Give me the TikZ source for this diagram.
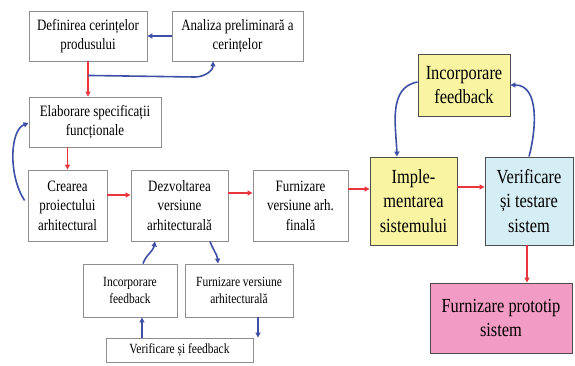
\documentclass[tikz,border=0pt]{standalone}
\usepackage{fontspec}
\setmainfont{Liberation Serif}
\newfontfamily\narrowserif[FakeStretch=0.82]{Liberation Serif}
\usetikzlibrary{arrows.meta}
\definecolor{boxgray}{HTML}{8E8E8E}
\definecolor{arrred}{HTML}{E8363C}
\definecolor{arrblue}{HTML}{3D4FA6}
\definecolor{protoyellow}{HTML}{F8F4A2}
\definecolor{protoblue}{HTML}{D5EDF4}
\definecolor{protopink}{HTML}{F29BC4}
\begin{document}
\begin{tikzpicture}[x=1pt, y=-1pt,
    every node/.style = {shape=rectangle, draw, align=center, inner sep=1pt},
    stage/.style = {draw=boxgray, fill=white, line width=0.9pt,
      font=\narrowserif\fontsize{15.8}{19.5}\selectfont},
    substage/.style = {stage, font=\narrowserif\fontsize{14}{17}\selectfont},
    proto/.style = {draw=black!70, line width=0.9pt,
      font=\narrowserif\fontsize{20}{24.5}\selectfont},
    redarrow/.style = {draw=arrred, line width=1.6pt, -{Triangle[length=5pt,width=5pt]}},
    bluearrow/.style = {draw=arrblue, line width=1.6pt, -{Triangle[length=5pt,width=5pt]}}]
    \useasboundingbox (0,0) rectangle (575,365);
    \node[stage, minimum width=118, minimum height=50] (definire) at (88,36)
        {Definirea cerințelor\\ produsului};
    \node[stage, minimum width=131, minimum height=50] (analiza) at (237.5,36)
        {Analiza preliminară a\\ cerințelor};
    \node[stage, minimum width=132, minimum height=50] (elaborare) at (95,122)
        {Elaborare specificații\\ funcționale};
    \node[stage, minimum width=79, minimum height=71] (creare) at (67.5,205.5)
        {Crearea\\ proiectului\\ arhitectural};
    \node[stage, minimum width=97, minimum height=71] (dezvoltare) at (179.5,205.5)
        {Dezvoltarea\\ versiune\\ arhitecturală};
    \node[stage, minimum width=95, minimum height=71] (finala) at (300.5,205.5)
        {Furnizare\\ versiune arh.\\ finală};
    \node[substage, minimum width=94, minimum height=53] (incorpst) at (130,290.5)
        {Incorporare\\ feedback};
    \node[substage, minimum width=108, minimum height=53] (furnst) at (239,290.5)
        {Furnizare versiune\\ arhitecturală};
    \node[substage, minimum width=147, minimum height=24] (verifst) at (179.5,350)
        {Verificare și feedback};
    \node[proto, fill=protoyellow, minimum width=92, minimum height=62] (incorpdr) at (464,85)
        {Incorporare\\ feedback};
    \node[proto, fill=protoyellow, minimum width=87, minimum height=88] (implem) at (413.5,201)
        {Imple-\\ mentarea\\ sistemului};
    \node[proto, fill=protoblue, minimum width=88, minimum height=88] (verifdr) at (529,201)
        {Verificare\\ și testare\\ sistem};
    \node[proto, fill=protopink, minimum width=142, minimum height=70] (prototip) at (501,318)
        {Furnizare prototip\\ sistem};
    \coordinate (ramura) at ([yshift=-14]definire.south);
    \draw[bluearrow] (analiza.west) -- (definire.east);
    \draw[redarrow] (definire.south) -- (definire.south |- elaborare.north);
    \draw[bluearrow] (ramura) -- (195,77) to[out=0,in=-90] ([xshift=-24.5]analiza.south);
    \draw[redarrow] (creare.north |- elaborare.south) -- (creare.north);
    \draw[bluearrow] ([xshift=-3,yshift=5]creare.west) .. controls (8,175) and (10,130) .. ([yshift=-1]elaborare.west);
    \draw[redarrow] ([yshift=10.5]creare.east) -- ([yshift=10.5]creare.east -| dezvoltare.west);
    \draw[redarrow] ([yshift=12.5]dezvoltare.east) -- ([yshift=12.5]dezvoltare.east -| finala.west);
    \draw[redarrow] ([yshift=16.5]finala.east) -- ([yshift=16.5]finala.east -| implem.west);
    \draw[redarrow] ([yshift=14]implem.east) -- ([yshift=14]implem.east -| verifdr.west);
    \draw[redarrow] ([xshift=-2]verifdr.south) -- ([xshift=-2]verifdr.south |- prototip.north);
    \draw[bluearrow] ([xshift=13]incorpst.north) to[out=70,in=-100] ([xshift=-24.5]dezvoltare.south);
    \draw[bluearrow] ([xshift=30.5]dezvoltare.south) to[out=-70,in=95] ([xshift=-21]furnst.north);
    \draw[bluearrow] ([xshift=-37.5]verifst.north) -- ([xshift=-37.5]verifst.north |- incorpst.south);
    \draw[bluearrow] ([xshift=19]furnst.south) -- ([xshift=19]furnst.south |- verifst.north);
    \draw[bluearrow] ([yshift=3]incorpdr.west) to[out=190,in=92] ([xshift=-16.5]implem.north);
    \draw[bluearrow] (verifdr.north) to[out=75,in=0] (incorpdr.east);
  \end{tikzpicture}
\end{document}
